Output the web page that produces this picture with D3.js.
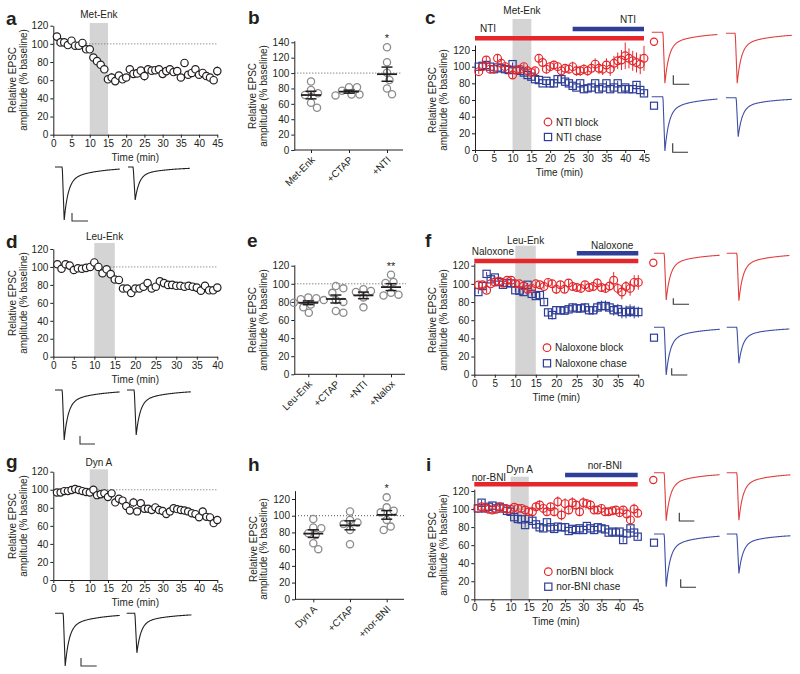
<!DOCTYPE html>
<html><head><meta charset="utf-8">
<script src="https://cdn.jsdelivr.net/npm/d3@7"></script>
<style>
html,body{margin:0;padding:0;background:#fff;}
svg{display:block;font-family:"Liberation Sans",Arial,Helvetica,sans-serif;}
</style></head>
<body><svg id="fig" width="800" height="674"></svg>
<script>
// ---------------- DATA ----------------
const yTicks = [0,20,40,60,80,100,120];
const yTicksB = [0,20,40,60,80,100,120,140];
const timeTicks45 = [0,5,10,15,20,25,30,35,40,45];
const timeTicks40 = [0,5,10,15,20,25,30,35,40];

// Panel a: Met-Enk (1-min bins)
const metEnk = [108,101.6,101.6,98.7,103.5, 98,98,101,94,94, 85,81,77,72,61, 63,59,65,61,63, 72,67,67.5,70.5,64.6, 72,70.5,71,72,67, 70,72,69,70,63, 79,66,68,72,66, 68,64.6,63,60,70];
const metEnkSem = [2,2,2,2,2, 2,2,2,2,2, 2,2,2,2,3, 5,3,3,3,3, 3,3,3,4,5, 3,3,3,3,3, 3,3,3,3,3, 3,3,3,3,3, 3,3,3,3,5];
const agonistA = [10,15];
const tracesA = [1.0, 0.62];

// Panel b
const catsB = ["Met-Enk","+CTAP","+NTI"];
const ptsB = [[89,78,73.7,71.5,61.5,55],[81.5,81.5,77,72,72,71],[133.5,114,100.5,91,80,72.4]];
const sigB = ["","","*"];

// Panel c
const ntiBlock = [94,100,108,97,97, 110,104,100,97,90, 96,97,100,95,93, 95,110,105,97,100, 102,100,95,98,97, 100,95,95,97,95, 98,103,98,97,102, 97,104,107,108,113, 110,107,105,103,110];
const ntiBlockSem = [3,3,4,3,3, 4,4,3,3,4, 4,4,4,4,4, 4,5,5,5,5, 5,5,5,5,5, 6,6,6,6,6, 6,7,7,7,8, 8,9,10,12,16, 12,12,12,12,15];
const ntiChase = [100,101,102,100,97, 99,98,97,96,103, 96,95,93,90,88, 85,84,80,83,80, 80,85,85,82,80, 77,75,80,73,74, 75,80,73,75,80, 73,75,80,73,75, 73,73,78,72,68];
const ntiChaseSem = [2,2,2,2,2, 2,2,2,2,2, 2,2,2,2,2, 2,2,2,2,2, 3,3,3,3,3, 3,3,3,3,3, 3,3,3,3,3, 3,3,3,3,3, 3,3,3,3,3];
const agonistC = [10,15];
const blockBarC = [0,45];
const chaseBarC = [26,45];
const tracesCBlock = [1.0, 1.0];
const tracesCChase = [1.0, 0.72];

// Panel d: Leu-Enk
const leuEnk = [103,98,103,101.5,96.6, 98.5,98,99,100,105, 100,93,97.4,92,86, 85.5,76,76,71,76, 76,78,82,76,78, 84,82,80,80,79, 79,78,79,78,77, 73.6,79,74,74,77];
const leuEnkSem = [2,2,2,2,2, 2,2,2,2,2, 2,2,2,2,2, 2,3,2,2,2, 2,2,2,2,2, 2,2,2,2,2, 2,2,2,2,2, 2,3,3,4,4];
const agonistD = [10,15];
const tracesD = [1.0, 0.9];

// Panel e
const catsE = ["Leu-Enk","+CTAP","+NTI","+Nalox"];
const ptsE = [[85,84,83,82,79,77,74,68],[97.5,95,90,82,80,70,68],[94,92,91,85,74],[110,102,101,90,88,87]];
const sigE = ["","","","**"];

// Panel f
const naloxBlock = [98.7,99,93,100,102, 103,101,104,104,100, 100,97.6,94,95,100, 99,97,101.6,100,94, 99,94,101,97,96, 95,99,96,97,101, 96,95,97.6,104,95, 91,97,95,101.6,101.6];
const naloxBlockSem = [3,3,3,3,3, 3,3,3,3,3, 3,3,3,3,3, 3,3,4,4,5, 4,4,4,4,4, 4,4,4,5,5, 5,5,5,9,6, 8,6,8,8,8];
const naloxChase = [91,97.6,111,105,107, 102,99,101,100.5,93, 92.5,91,99,89,86.6, 87.7,80,68.6,65.7,71, 71,70.5,72,74,73, 73,74,71,71,74, 75.6,75.6,74,71,72, 69,69,70.5,69,69];
const naloxChaseSem = [2,2,2,2,2, 2,2,2,2,2, 2,2,2,2,3, 3,3,4,5,4, 4,4,5,5,5, 5,5,5,5,6, 6,6,6,6,6, 7,7,7,7,6];
const agonistF = [10,15];
const blockBarF = [0,40];
const chaseBarF = [25,40];
const tracesFBlock = [1.0, 1.0];
const tracesFChase = [1.0, 0.75];

// Panel g: Dyn A
const dynA = [97,97,98.5,98.5,99.7, 100.8,99.7,98.5,97.5,97, 100,94,95,96,92, 96,86,90,88,82, 77,86,76,85,79, 79,77.5,80.5,77.5,76.5, 73,76,79.5,78.5,77.5, 77,76,74,73,69.4, 76,70,69.4,63,66.5];
const dynASem = [2,2,2,2,2, 2,2,2,2,2, 2,3,3,3,4, 3,4,3,3,4, 4,5,4,4,3, 3,4,4,4,3, 3,3,3,3,3, 3,3,3,3,4, 4,4,4,4,4];
const agonistG = [10,15];
const tracesG = [1.0, 0.75];

// Panel h
const catsH = ["Dyn A","+CTAP","+nor-BNI"];
const ptsH = [[96,86,85,79,77,67,60],[105,95,92,90,83,66],[122,110,106,104,95,87,83]];
const sigH = ["","","*"];

// Panel i
const norBNIBlock = [100.7,102.5,101.5,99.7,99, 99.7,102.5,100.7,100,99.7, 102,100.7,100.7,99,97, 97,102.5,104.5,100.7,97, 102.5,97,108,93.4,106, 99,107,104.5,97,107, 106,104.5,99,99,100.7, 97,97,98,99,96, 99,94.5,88,100,95.3];
const norBNIBlockSem = [2,2,2,2,2, 2,2,2,2,2, 3,3,3,3,3, 3,5,5,4,4, 4,5,6,6,6, 5,6,5,5,6, 5,5,4,4,4, 4,4,4,4,4, 4,4,4,6,4];
const norBNIChase = [100.7,107,100.7,102.5,103.8, 100.7,102.5,100.7,98,97, 91,89,88.6,82.3,89, 87,83,79.8,78.6,85.3, 79.8,78,80.5,79.8,79.8, 75.7,78,76.8,78.6,76.8, 81.2,78.6,76.8,79.8,78.6, 77.5,73.9,75,73.9,75, 65.7,73,78.6,73.9,69.4];
const norBNIChaseSem = [3,3,3,3,3, 3,3,3,3,3, 3,3,3,3,3, 3,3,3,3,3, 3,3,3,3,3, 3,3,3,3,3, 3,3,3,3,3, 3,3,3,3,3, 3,3,3,3,3];
const agonistI = [10,15];
const blockBarI = [0,45];
const chaseBarI = [25,45];
const tracesIBlock = [1.0, 0.99];
const tracesIChase = [1.0, 0.75];

// ---------------- DRAWING ----------------
const svg = d3.select("#fig");
const FONT = "'Liberation Sans', Arial, Helvetica, sans-serif";
const INK = "#231f20";
const RED = "#e5262b", BLUE = "#2f3f98";
const RED_T = "#e0403f", BLUE_T = "#3f4ea3";
const BAND = "#d4d4d4";

function txt(g, s, x, y, opts={}) {
  return g.append("text").attr("x", x).attr("y", y).text(s)
    .attr("font-size", opts.size || 10).attr("fill", opts.fill || INK)
    .attr("font-family", FONT)
    .attr("font-weight", opts.weight || "normal")
    .attr("text-anchor", opts.anchor || "start");
}
function letter(s, x, y) { txt(svg, s, x, y, {size: 19, weight: "bold"}); }
function yLabel(xb1, xb2, yc) {
  [["Relative EPSC", xb1], ["amplitude (% baseline)", xb2]].forEach(([t, xx]) => {
    svg.append("text").attr("transform", `translate(${xx},${yc}) rotate(-90)`)
      .attr("text-anchor", "middle").attr("font-size", 10).attr("fill", INK)
      .attr("font-family", FONT).text(t);
  });
}
function styleAxis(sel) {
  sel.attr("font-family", FONT);
  sel.selectAll("path,line").attr("stroke", INK).attr("stroke-width", 1);
  sel.selectAll("text").attr("font-size", 10).attr("fill", INK);
}

function timePanel(p) {
  const x = d3.scaleLinear().domain([0, p.tmax]).range([p.x0, p.x1]);
  const y = d3.scaleLinear().domain([0, 120]).range([p.y0, p.y120]);
  const yAx = d3.scaleLinear().domain([0, p.ytop]).range([p.y0, y(p.ytop)]);
  const g = svg.append("g");
  g.append("rect").attr("x", x(p.agonist[0])).attr("width", x(p.agonist[1]) - x(p.agonist[0]))
    .attr("y", p.bandTop).attr("height", p.y0 - p.bandTop).attr("fill", BAND);
  txt(g, p.agonistLabel, (x(p.agonist[0]) + x(p.agonist[1])) / 2, p.agonistLabelY, {anchor: "middle"});
  if (p.dotted) {
    g.append("line").attr("x1", p.x0).attr("x2", p.dottedEnd || p.x1).attr("y1", y(100)).attr("y2", y(100))
      .attr("stroke", "#666").attr("stroke-width", 1).attr("stroke-dasharray", "1,2");
  }
  g.append("g").attr("transform", `translate(${p.x0},0)`)
    .call(d3.axisLeft(yAx).tickValues(yTicks).tickSize(3).tickPadding(2).tickSizeOuter(0)).call(styleAxis);
  g.append("g").attr("transform", `translate(0,${p.y0})`)
    .call(d3.axisBottom(x).tickValues(p.xticks).tickSize(3).tickPadding(2).tickSizeOuter(0)).call(styleAxis);
  txt(g, "Time (min)", (p.x0 + p.x1) / 2, p.y0 + 26, {anchor: "middle"});
  // drug bars
  (p.bars || []).forEach(b => {
    g.append("line").attr("x1", x(b.range[0])).attr("x2", x(b.range[1]))
      .attr("y1", b.y).attr("y2", b.y).attr("stroke", b.color).attr("stroke-width", 4.5);
    txt(g, b.label, b.lx, b.ly);
  });
  p.series.forEach(s => {
    const d = s.values.map((v, i) => ({t: i + 1, v, e: s.sem[i]}));
    const sg = g.append("g");
    sg.selectAll("line").data(d).join("line")
      .attr("x1", q => x(q.t)).attr("x2", q => x(q.t))
      .attr("y1", q => y(q.v - q.e)).attr("y2", q => y(q.v + q.e))
      .attr("stroke", s.color).attr("stroke-width", 1);
    if (s.shape === "square") {
      sg.selectAll("rect").data(d).join("rect")
        .attr("x", q => x(q.t) - 3.6).attr("y", q => y(q.v) - 3.6)
        .attr("width", 7.2).attr("height", 7.2)
        .attr("fill", s.fill).attr("stroke", s.color).attr("stroke-width", 1.2);
    } else {
      sg.selectAll("circle").data(d).join("circle")
        .attr("cx", q => x(q.t)).attr("cy", q => y(q.v)).attr("r", s.r || 3.7)
        .attr("fill", s.fill).attr("stroke", s.color).attr("stroke-width", 1.2);
    }
  });
  if (p.legend) {
    const L = p.legend;
    g.append("circle").attr("cx", L.x).attr("cy", L.y1).attr("r", 3.8).attr("fill", "none").attr("stroke", RED).attr("stroke-width", 1.2);
    txt(g, L.t1, L.x + 8, L.y1 + 3.5);
    g.append("rect").attr("x", L.x - 3.6).attr("y", L.y2 - 3.6).attr("width", 7.2).attr("height", 7.2).attr("fill", "none").attr("stroke", BLUE).attr("stroke-width", 1.2);
    txt(g, L.t2, L.x + 8, L.y2 + 3.5);
  }
}

function beeswarm(vals, y, r) {
  const order = vals.map((v, i) => i).sort((a, b) => vals[b] - vals[a]);
  const placed = [];
  const offs = new Array(vals.length).fill(0);
  const cand = [0];
  for (let k = 0.5; k <= 30; k += 0.5) { cand.push(k); cand.push(-k); }
  order.forEach(i => {
    const yy = y(vals[i]);
    for (const o of cand) {
      if (placed.every(p => Math.hypot(p.o - o, p.y - yy) >= 2 * r + 0.4)) {
        offs[i] = o; placed.push({o, y: yy}); break;
      }
    }
  });
  return offs;
}

function scatterPanel(p) {
  const y = d3.scaleLinear().domain([0, 120]).range([p.y0, p.y120]);
  const yAx = d3.scaleLinear().domain([0, p.ytop]).range([p.y0, y(p.ytop)]);
  const x = d3.scalePoint().domain(p.cats).range([p.c0, p.c1]);
  const g = svg.append("g");
  g.append("line").attr("x1", p.x0).attr("x2", p.dotEnd).attr("y1", y(100)).attr("y2", y(100))
    .attr("stroke", "#555").attr("stroke-width", 1).attr("stroke-dasharray", "1,2");
  g.append("g").attr("transform", `translate(${p.x0},0)`)
    .call(d3.axisLeft(yAx).tickValues(p.ticks).tickSize(3).tickPadding(2).tickSizeOuter(0)).call(styleAxis);
  const xa = g.append("g").attr("transform", `translate(0,${p.y0})`)
    .call(d3.axisBottom(x).tickSize(3).tickSizeOuter(0).tickFormat(""));
  xa.select(".domain").remove();
  xa.call(styleAxis);
  g.append("line").attr("x1", p.x0).attr("x2", p.x1).attr("y1", p.y0).attr("y2", p.y0).attr("stroke", INK).attr("stroke-width", 1);
  p.cats.forEach((c, ci) => {
    g.append("text").attr("transform", `translate(${x(c) + 2},${p.y0 + 8}) rotate(-45)`)
      .attr("text-anchor", "end").attr("dy", "0.35em").attr("font-size", 10)
      .attr("font-family", FONT).attr("fill", INK).text(c);
    const vals = p.pts[ci];
    const offs = beeswarm(vals, y, 3.6);
    g.selectAll(null).data(vals).join("circle")
      .attr("cx", (v, i) => x(c) + offs[i]).attr("cy", v => y(v)).attr("r", 3.6)
      .attr("fill", "none").attr("stroke", "#8c8c8c").attr("stroke-width", 1.3);
    const m = d3.mean(vals), se = d3.deviation(vals) / Math.sqrt(vals.length);
    const cx = x(c);
    g.append("line").attr("x1", cx - 10).attr("x2", cx + 10).attr("y1", y(m)).attr("y2", y(m)).attr("stroke", INK).attr("stroke-width", 1.8);
    g.append("line").attr("x1", cx).attr("x2", cx).attr("y1", y(m - se)).attr("y2", y(m + se)).attr("stroke", INK).attr("stroke-width", 1.5);
    [m - se, m + se].forEach(v => g.append("line").attr("x1", cx - 5.5).attr("x2", cx + 5.5).attr("y1", y(v)).attr("y2", y(v)).attr("stroke", INK).attr("stroke-width", 1.5));
    if (p.sig[ci]) txt(g, p.sig[ci], cx, y(d3.max(vals)) - 5, {anchor: "middle", size: 11});
  });
}

function trace(xs, yb, depth, amp, color, prefix, width) {
  const tx = d3.scaleLinear().domain([0, width]).range([xs, xs + width]);
  const ty = d3.scaleLinear().domain([0, 1]).range([yb, yb + depth]);
  const pts = [[0, 0], [prefix, 0], [prefix + 0.4, 0.06]];
  const tp = prefix + 2.2;
  pts.push([tp, amp]);
  for (let t = tp + 0.5; t <= width; t += 0.5) {
    const dt = t - tp;
    pts.push([t, amp * (0.75 * Math.exp(-dt / 4) + 0.25 * Math.exp(-dt / 30))]);
  }
  svg.append("path").attr("d", d3.line().x(d => tx(d[0])).y(d => ty(d[1]))(pts))
    .attr("fill", "none").attr("stroke", color).attr("stroke-width", 1.1);
}
function scaleBar(x, y, vh, hw) {
  svg.append("path").attr("d", `M${x},${y - vh}V${y}H${x + hw}`).attr("fill", "none").attr("stroke", "#333").attr("stroke-width", 1.1);
}

// ---- Row 1 ----
letter("a", 6, 25);
yLabel(16, 27, 80);
timePanel({x0: 53.3, x1: 217.3, tmax: 45, y0: 134.7, y120: 25.7, ytop: 120, bandTop: 23, xticks: timeTicks45,
  agonist: agonistA, agonistLabel: "Met-Enk", agonistLabelY: 18, dotted: true,
  series: [{values: metEnk, sem: metEnkSem, color: INK, fill: "#fff", shape: "circle"}]});
trace(55, 167, 53, tracesA[0], INK, 7, 65);
trace(128, 167, 53, tracesA[1], INK, 5, 62);
scaleBar(72, 221, 8, 16);

letter("b", 248, 24);
yLabel(256, 267, 96);
scatterPanel({x0: 294.3, x1: 403, dotEnd: 401, y0: 150, y120: 150 - 120 * (107.7 / 140), ytop: 142, ticks: yTicksB,
  cats: catsB, c0: 311, c1: 387, pts: ptsB, sig: sigB});

letter("c", 425, 24);
yLabel(436, 447, 100);
timePanel({x0: 475, x1: 644, tmax: 45, y0: 150, y120: 50, ytop: 126, bandTop: 19, xticks: timeTicks45,
  agonist: agonistC, agonistLabel: "Met-Enk", agonistLabelY: 14, dotted: false,
  bars: [{range: blockBarC, y: 38.3, color: RED, label: "NTI", lx: 480, ly: 32},
         {range: chaseBarC, y: 29, color: BLUE, label: "NTI", lx: 620, ly: 23}],
  series: [{values: ntiChase, sem: ntiChaseSem, color: BLUE, fill: "none", shape: "square"},
           {values: ntiBlock, sem: ntiBlockSem, color: RED, fill: "none", shape: "circle", r: 3.9}],
  legend: {x: 548, y1: 122, y2: 137, t1: "NTI block", t2: "NTI chase"}});
svg.append("circle").attr("cx", 654).attr("cy", 41.7).attr("r", 3.6).attr("fill", "none").attr("stroke", RED).attr("stroke-width", 1.2);
svg.append("rect").attr("x", 650.5).attr("y", 102.2).attr("width", 7).attr("height", 7).attr("fill", "none").attr("stroke", BLUE).attr("stroke-width", 1.2);
trace(651.7, 32.3, 51, tracesCBlock[0], RED_T, 11, 66);
trace(726, 33.3, 50, tracesCBlock[1], RED_T, 9, 66);
scaleBar(673.3, 84.3, 9, 16);
trace(651.7, 96.7, 54.3, tracesCChase[0], BLUE_T, 11, 66);
trace(726, 97.7, 54.3, tracesCChase[1], BLUE_T, 10, 66);
scaleBar(672.7, 152.3, 9, 15.3);

// ---- Row 2 ----
letter("d", 6, 248);
yLabel(16, 27, 303);
timePanel({x0: 53.3, x1: 217.3, tmax: 40, y0: 356.7, y120: 249, ytop: 120, bandTop: 243, xticks: timeTicks40,
  agonist: agonistD, agonistLabel: "Leu-Enk", agonistLabelY: 240, dotted: true,
  series: [{values: leuEnk, sem: leuEnkSem, color: INK, fill: "#fff", shape: "circle"}]});
trace(55, 390, 50, tracesD[0], INK, 7, 65);
trace(127, 390, 50, tracesD[1], INK, 7, 64);
scaleBar(80, 444, 8, 15);

letter("e", 247, 247);
yLabel(256, 267, 320);
scatterPanel({x0: 294.3, x1: 405, dotEnd: 406, y0: 374.3, y120: 265.7, ytop: 121, ticks: yTicks,
  cats: catsE, c0: 308.3, c1: 391, pts: ptsE, sig: sigE});

letter("f", 425, 247);
yLabel(436, 447, 320);
timePanel({x0: 474.3, x1: 638.3, tmax: 40, y0: 374.7, y120: 265.7, ytop: 123, bandTop: 245.7, xticks: timeTicks40,
  agonist: agonistF, agonistLabel: "Leu-Enk", agonistLabelY: 243.5, dotted: false,
  bars: [{range: blockBarF, y: 261, color: RED, label: "Naloxone", lx: 471.7, ly: 255},
         {range: chaseBarF, y: 253.3, color: BLUE, label: "Naloxone", lx: 591, ly: 248.5}],
  series: [{values: naloxChase, sem: naloxChaseSem, color: BLUE, fill: "none", shape: "square"},
           {values: naloxBlock, sem: naloxBlockSem, color: RED, fill: "none", shape: "circle", r: 3.9}],
  legend: {x: 547, y1: 347.7, y2: 363.3, t1: "Naloxone block", t2: "Naloxone chase"}});
svg.append("circle").attr("cx", 653.3).attr("cy", 262.7).attr("r", 3.6).attr("fill", "none").attr("stroke", RED).attr("stroke-width", 1.2);
svg.append("rect").attr("x", 650.5).attr("y", 334.2).attr("width", 7).attr("height", 7).attr("fill", "none").attr("stroke", BLUE).attr("stroke-width", 1.2);
trace(654, 253.3, 46.7, tracesFBlock[0], RED_T, 10, 66);
trace(726.7, 253.3, 47.4, tracesFBlock[1], RED_T, 10, 63);
scaleBar(673.3, 304.3, 6, 15.7);
trace(654, 327.3, 47.7, tracesFChase[0], BLUE_T, 10, 66);
trace(726.7, 327.3, 48, tracesFChase[1], BLUE_T, 10, 63);
scaleBar(671.7, 375, 6.7, 15.6);

// ---- Row 3 ----
letter("g", 6, 468);
yLabel(16, 27, 526);
timePanel({x0: 53.3, x1: 217.3, tmax: 45, y0: 580, y120: 471.7, ytop: 120, bandTop: 469.3, xticks: timeTicks45,
  agonist: agonistG, agonistLabel: "Dyn A", agonistLabelY: 466, dotted: true,
  series: [{values: dynA, sem: dynASem, color: INK, fill: "#fff", shape: "circle", r: 3.6}]});
trace(55, 613.3, 52.7, tracesG[0], INK, 8, 65);
trace(126.7, 613.3, 52.7, tracesG[1], INK, 8, 65);
scaleBar(81, 666, 8, 15.7);

letter("h", 248, 471);
yLabel(257, 267, 549);
scatterPanel({x0: 295, x1: 404, dotEnd: 405, y0: 599.3, y120: 499, ytop: 130, ticks: yTicks,
  cats: catsH, c0: 313.3, c1: 386.7, pts: ptsH, sig: sigH});

letter("i", 426, 471);
yLabel(436, 447, 545);
timePanel({x0: 474.3, x1: 637.7, tmax: 45, y0: 599.3, y120: 491, ytop: 122, bandTop: 476.7, xticks: timeTicks45,
  agonist: agonistI, agonistLabel: "Dyn A", agonistLabelY: 473, dotted: true,
  bars: [{range: blockBarI, y: 484.3, color: RED, label: "nor-BNI", lx: 471.7, ly: 480.5},
         {range: chaseBarI, y: 475, color: BLUE, label: "nor-BNI", lx: 587.7, ly: 469}],
  series: [{values: norBNIChase, sem: norBNIChaseSem, color: BLUE, fill: "none", shape: "square"},
           {values: norBNIBlock, sem: norBNIBlockSem, color: RED, fill: "none", shape: "circle", r: 3.9}],
  legend: {x: 548.3, y1: 571.7, y2: 586.7, t1: "norBNI block", t2: "nor-BNI chase"}});
svg.append("circle").attr("cx", 653.3).attr("cy", 480).attr("r", 3.6).attr("fill", "none").attr("stroke", RED).attr("stroke-width", 1.2);
svg.append("rect").attr("x", 650.5).attr("y", 539.2).attr("width", 7).attr("height", 7).attr("fill", "none").attr("stroke", BLUE).attr("stroke-width", 1.2);
trace(654, 472.7, 48, tracesIBlock[0], RED_T, 10, 66);
trace(726.7, 472.7, 48, tracesIBlock[1], RED_T, 10, 64);
scaleBar(679.3, 521, 8.3, 15);
trace(654, 534, 52.7, tracesIChase[0], BLUE_T, 10, 66);
trace(726.7, 534, 52.7, tracesIChase[1], BLUE_T, 10, 64);
scaleBar(680.7, 587.3, 8, 15.3);
</script>
</body></html>
